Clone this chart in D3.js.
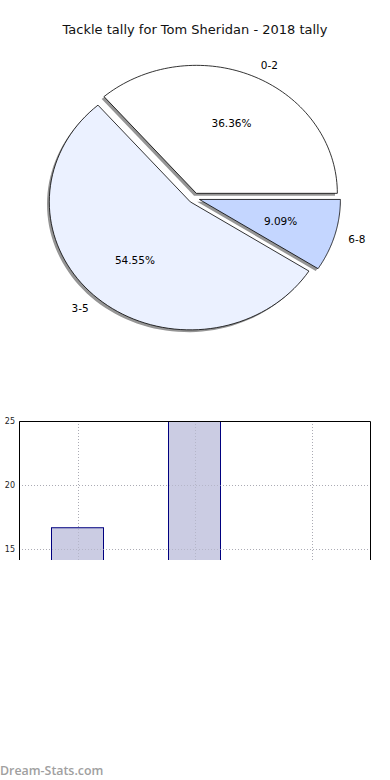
<!DOCTYPE html>
<html><head><meta charset="utf-8">
<script src="https://cdn.jsdelivr.net/npm/d3@7"></script>
<style>
html,body{margin:0;padding:0;background:#fff;}
svg{display:block;font-family:"DejaVu Sans",sans-serif;}
</style></head>
<body>
<script>
// ---- data ----
const title = "Tackle tally for Tom Sheridan - 2018 tally";
const pieLabels = ["0-2", "3-5", "6-8"];
const pieValues = [4, 6, 1];
const pieColors = ["#ffffff", "#ebf1ff", "#c4d6ff"];
const barCategories = ["2016", "2017", "2018"];
const barValues = [16.7, 26, 10];
const yTicks = [15, 20, 25];
const watermark = "Dream-Stats.com";

(function () {
const W = 390, H = 780;
const svg = d3.select("body").append("svg").attr("width", W).attr("height", H);

// ---- title ----
svg.append("text").attr("x", 195).attr("y", 34).attr("text-anchor", "middle")
  .attr("font-size", 13).attr("fill", "#111").text(title);

// ---- pie (matplotlib style: start at 0 rad, counter-clockwise) ----
const cx = 194, cy = 198, rx = 141, ry = 128, explode = 0.04;
const total = d3.sum(pieValues);
const angScale = d3.scaleLinear().domain([0, total]).range([0, 2 * Math.PI]);
let acc = 0;
const wedges = pieValues.map((v, i) => {
  const a0 = angScale(acc); acc += v; const a1 = angScale(acc);
  const mid = (a0 + a1) / 2;
  const ox = cx + Math.cos(mid) * explode * rx;
  const oy = cy - Math.sin(mid) * explode * ry;
  return {i, v, a0, a1, mid, ox, oy};
});
function wedgePath(w, dx, dy) {
  const p = d3.path();
  const x0 = w.ox + dx, y0 = w.oy + dy;
  p.moveTo(x0, y0);
  const n = 80;
  for (let k = 0; k <= n; k++) {
    const a = w.a0 + (w.a1 - w.a0) * k / n;
    p.lineTo(x0 + Math.cos(a) * rx, y0 - Math.sin(a) * ry);
  }
  p.closePath();
  return p.toString();
}
const pieG = svg.append("g");
pieG.selectAll("path.shadow").data(wedges).enter().append("path")
  .attr("class", "shadow").attr("d", d => wedgePath(d, -2.3, 2.3))
  .attr("fill", "#959595").attr("stroke", "none");
pieG.selectAll("path.wedge").data(wedges).enter().append("path")
  .attr("class", "wedge").attr("d", d => wedgePath(d, 0, 0))
  .attr("fill", d => pieColors[d.i]).attr("stroke", "#000").attr("stroke-width", 0.8)
  .attr("stroke-linejoin", "miter");
// labels
pieG.selectAll("text.lab").data(wedges).enter().append("text")
  .attr("x", d => d.ox + Math.cos(d.mid) * 1.1 * rx)
  .attr("y", d => d.oy - Math.sin(d.mid) * 1.1 * ry)
  .attr("text-anchor", d => Math.cos(d.mid) >= 0 ? "start" : "end")
  .attr("dominant-baseline", "central")
  .attr("font-size", 10.5).attr("fill", "#000").text(d => pieLabels[d.i]);
pieG.selectAll("text.pct").data(wedges).enter().append("text")
  .attr("x", d => d.ox + Math.cos(d.mid) * 0.6 * rx)
  .attr("y", d => d.oy - Math.sin(d.mid) * 0.6 * ry)
  .attr("text-anchor", "middle").attr("dominant-baseline", "central")
  .attr("font-size", 10.5).attr("fill", "#000")
  .text(d => (d.v / total * 100).toFixed(2) + "%");

// ---- bar chart (cropped at y=560) ----
const left = 19, right = 370, axTop = 421;
svg.append("clipPath").attr("id", "crop").append("rect")
  .attr("x", 0).attr("y", 0).attr("width", W).attr("height", 560);
const bc = svg.append("g").attr("clip-path", "url(#crop)");
const x = d3.scalePoint().domain(barCategories).range([78, 312]);
const y = d3.scaleLinear().domain([15, 25]).range([549, 421]);
const bw = 52;
// grid
bc.selectAll("line.hg").data(yTicks).enter().append("line")
  .attr("x1", left).attr("x2", right).attr("y1", d => y(d) + 0.5).attr("y2", d => y(d) + 0.5)
  .attr("stroke", "#b0b0b0").attr("stroke-width", 1).attr("stroke-dasharray", "1,2");
bc.selectAll("line.vg").data(barCategories).enter().append("line")
  .attr("x1", d => x(d) + 0.5).attr("x2", d => x(d) + 0.5).attr("y1", axTop).attr("y2", 800)
  .attr("stroke", "#b0b0b0").attr("stroke-width", 1).attr("stroke-dasharray", "1,2");
// bars
bc.append("g").selectAll("rect").data(barValues).enter().append("rect")
  .attr("x", (d, i) => x(barCategories[i]) - bw / 2 - 0.5)
  .attr("y", d => Math.max(y(d), axTop) + 0.5)
  .attr("width", bw).attr("height", d => 800 - Math.max(y(d), axTop))
  .attr("fill", "#cbcce3").attr("stroke", "#00007f").attr("stroke-width", 1);
// grid over bars
bc.selectAll("line.hg2").data(yTicks).enter().append("line")
  .attr("x1", left).attr("x2", right).attr("y1", d => y(d) + 0.5).attr("y2", d => y(d) + 0.5)
  .attr("stroke", "#a8a8b8").attr("stroke-width", 1).attr("stroke-dasharray", "1,2").attr("opacity", 0.6);
bc.selectAll("line.vg2").data(barCategories).enter().append("line")
  .attr("x1", d => x(d) + 0.5).attr("x2", d => x(d) + 0.5).attr("y1", axTop).attr("y2", 800)
  .attr("stroke", "#a8a8b8").attr("stroke-width", 1).attr("stroke-dasharray", "1,2").attr("opacity", 0.6);
// frame
bc.append("path").attr("d", `M${left + 0.5},800V${axTop + 0.5}H${right + 0.5}V800`)
  .attr("fill", "none").attr("stroke", "#000").attr("stroke-width", 1);
// y axis via d3
const yAxis = d3.axisLeft(y).tickValues(yTicks).tickSize(0).tickPadding(4);
const ya = bc.append("g").attr("transform", `translate(${left},0)`).call(yAxis);
ya.select(".domain").remove();
ya.selectAll("text").attr("font-size", 8).attr("fill", "#222")
  .attr("font-family", "DejaVu Sans, sans-serif");

// ---- watermark ----
svg.append("text").attr("x", 0).attr("y", 775).attr("font-family", "Open Sans, sans-serif")
  .attr("font-weight", 600).attr("font-size", 12.4).attr("fill", "#a0a0a0").text(watermark);
})();
</script>
</body></html>
